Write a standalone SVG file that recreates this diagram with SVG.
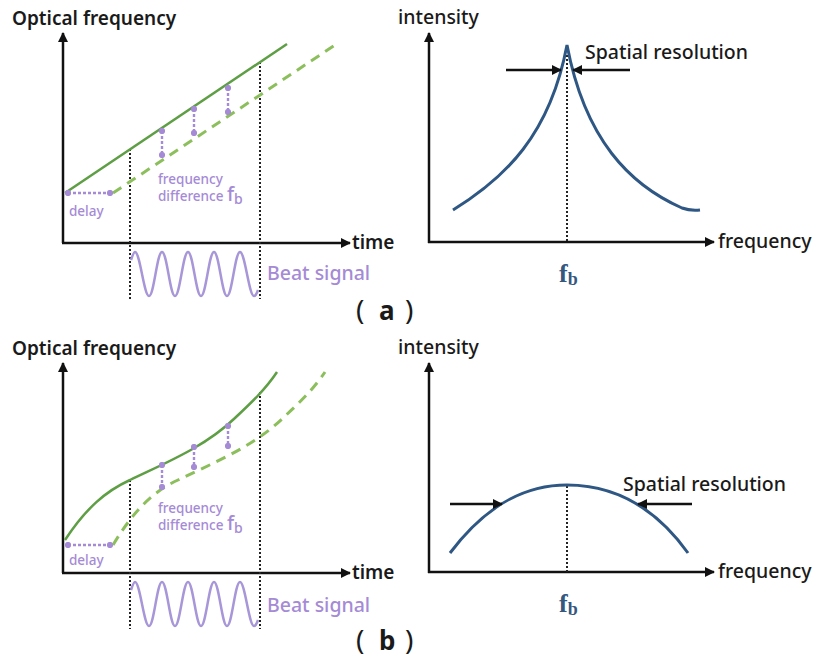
<svg xmlns="http://www.w3.org/2000/svg" width="817" height="661" viewBox="0 0 817 661">
<defs>
<style>
.t{font-family:"Noto Sans","Open Sans","Liberation Sans",sans-serif;fill:#1a1a1a;}
.lbl{font-size:19px;font-weight:600;}
.md{font-size:19.5px;font-weight:500;}
.ax{stroke:#111;stroke-width:2.5;fill:none;}
.vd{stroke:#222;stroke-width:2;stroke-dasharray:2 2;fill:none;}
.g{stroke:#5e9e44;stroke-width:2.5;fill:none;}
.gd{stroke:#8cbf5c;stroke-width:3;stroke-dasharray:10 7;fill:none;}
.pd{stroke:#a58ad6;stroke-width:2.4;stroke-dasharray:3 2;fill:none;}
.beat{stroke:#a796d8;stroke-width:2.5;fill:none;}
.blue{stroke:#2f5784;stroke-width:3;fill:none;}
.blk{stroke:#111;stroke-width:2.5;fill:none;}
.pt{font-family:"Noto Sans","Open Sans","Liberation Sans",sans-serif;fill:#a58ad6;font-weight:500;}
.fb{font-family:"Liberation Serif","DejaVu Serif",serif;fill:#34587f;font-weight:bold;}
.par{font-family:"Noto Sans","Liberation Sans",sans-serif;fill:#1a1a1a;font-size:28px;font-weight:400;}
.let{font-family:"Noto Sans","Liberation Sans",sans-serif;fill:#1a1a1a;font-size:26px;font-weight:bold;}
</style>
<marker id="ah" viewBox="0 0 10 10" refX="9" refY="5" markerWidth="4" markerHeight="4" orient="auto-start-reverse"><path d="M0,0 L10,5 L0,10 z" fill="#111"/></marker>
<marker id="pdot" viewBox="0 0 10 10" refX="5" refY="5" markerWidth="2.6" markerHeight="2.6" orient="auto"><circle cx="5" cy="5" r="5" fill="#a58ad6"/></marker>
</defs>

<!-- ===== Panel (a) left ===== -->
<g id="a-left">
<text class="t lbl" x="12" y="25">Optical frequency</text>
<line class="ax" x1="63" y1="243" x2="63" y2="33" marker-end="url(#ah)"/>
<line class="ax" x1="62" y1="243" x2="350" y2="243" marker-end="url(#ah)"/>
<text class="t lbl" x="352" y="249" font-size="20">time</text>
<line class="vd" x1="130" y1="149" x2="130" y2="299"/>
<line class="vd" x1="260" y1="62" x2="260" y2="299"/>
<line class="g" x1="65" y1="193" x2="287" y2="44"/>
<line class="gd" x1="113" y1="193" x2="338" y2="43"/>
<line class="pd" x1="68" y1="193" x2="110" y2="193" marker-start="url(#pdot)" marker-end="url(#pdot)"/>
<text class="pt" x="69" y="216" font-size="13.5">delay</text>
<line class="pd" x1="162" y1="131" x2="162" y2="155" marker-start="url(#pdot)" marker-end="url(#pdot)"/>
<line class="pd" x1="194" y1="109" x2="194" y2="133" marker-start="url(#pdot)" marker-end="url(#pdot)"/>
<line class="pd" x1="228" y1="88" x2="228" y2="112" marker-start="url(#pdot)" marker-end="url(#pdot)"/>
<text class="pt" x="158" y="184" font-size="13.5">frequency</text>
<text class="pt" x="158" y="201" font-size="13.5">difference <tspan font-size="20">f</tspan><tspan font-size="14" dy="3">b</tspan></text>
<path class="beat" d="M131,260 C133,254 134,252 135,252 C140,252 144,296 149,296 C154,296 157,252 162,252 C167,252 170,296 175,296 C180,296 183,252 188,252 C193,252 196,296 201,296 C206,296 209,252 214,252 C219,252 222,296 227,296 C232,296 235,252 240,252 C245,252 249,296 254,296 C256,296 257,293 258,290"/>
<text class="pt" x="267" y="280" font-size="19.5">Beat signal</text>
</g>

<!-- ===== Panel (a) right ===== -->
<g id="a-right">
<text class="t md" x="398" y="24">intensity</text>
<line class="ax" x1="429" y1="243" x2="429" y2="33" marker-end="url(#ah)"/>
<line class="ax" x1="428" y1="242" x2="714" y2="242" marker-end="url(#ah)"/>
<text class="t md" x="718" y="248">frequency</text>
<line class="vd" x1="567" y1="55" x2="567" y2="242"/>
<path class="blue" d="M453,210 C505,178 550,135 567,45 C585,140 630,185 682,208 Q690,211 700,210"/>
<line class="blk" x1="506" y1="70" x2="561" y2="70" marker-end="url(#ah)"/>
<line class="blk" x1="630" y1="70" x2="573" y2="70" marker-end="url(#ah)"/>
<text class="t md" x="585" y="59">Spatial resolution</text>
<text class="fb" x="559" y="282" font-size="26">f<tspan font-size="18" dy="3">b</tspan></text>
</g>

<g id="label-a">
<text class="par" x="356" y="320">(</text>
<text class="let" x="379" y="320">a</text>
<text class="par" x="405" y="320">)</text>
</g>

<!-- ===== Panel (b) left ===== -->
<g id="b-left">
<text class="t lbl" x="12" y="355">Optical frequency</text>
<line class="ax" x1="63" y1="573" x2="63" y2="363" marker-end="url(#ah)"/>
<line class="ax" x1="62" y1="573" x2="350" y2="573" marker-end="url(#ah)"/>
<text class="t lbl" x="352" y="579" font-size="20">time</text>
<line class="vd" x1="130" y1="480" x2="130" y2="629"/>
<line class="vd" x1="260" y1="392" x2="260" y2="629"/>
<path class="g" d="M65,540 C86,508 106,491 130,480 C165,463 205,447 235,418 C250,404 265,390 277,372"/>
<path class="gd" d="M113,545 C134,510 154,491 178,480 C213,463 253,447 283,418 C298,404 313,390 325,372"/>
<line class="pd" x1="68" y1="545" x2="110" y2="545" marker-start="url(#pdot)" marker-end="url(#pdot)"/>
<text class="pt" x="69" y="565" font-size="13.5">delay</text>
<line class="pd" x1="162" y1="465" x2="162" y2="487" marker-start="url(#pdot)" marker-end="url(#pdot)"/>
<line class="pd" x1="194" y1="447" x2="194" y2="467" marker-start="url(#pdot)" marker-end="url(#pdot)"/>
<line class="pd" x1="228" y1="426" x2="228" y2="446" marker-start="url(#pdot)" marker-end="url(#pdot)"/>
<text class="pt" x="158" y="513" font-size="13.5">frequency</text>
<text class="pt" x="158" y="530" font-size="13.5">difference <tspan font-size="20">f</tspan><tspan font-size="14" dy="3">b</tspan></text>
<path class="beat" d="M131,590 C133,584 134,582 135,582 C140,582 144,626 149,626 C154,626 157,582 162,582 C167,582 170,626 175,626 C180,626 183,582 188,582 C193,582 196,626 201,626 C206,626 209,582 214,582 C219,582 222,626 227,626 C232,626 235,582 240,582 C245,582 249,626 254,626 C256,626 257,623 258,620"/>
<text class="pt" x="267" y="612" font-size="19.5">Beat signal</text>
</g>

<!-- ===== Panel (b) right ===== -->
<g id="b-right">
<text class="t md" x="398" y="354">intensity</text>
<line class="ax" x1="429" y1="573" x2="429" y2="363" marker-end="url(#ah)"/>
<line class="ax" x1="428" y1="572" x2="714" y2="572" marker-end="url(#ah)"/>
<text class="t md" x="718" y="578">frequency</text>
<line class="vd" x1="567" y1="486" x2="567" y2="572"/>
<path class="blue" d="M450,553 C490,500 530,485 567,485 C605,485 650,500 688,553"/>
<line class="blk" x1="450" y1="504" x2="502" y2="504" marker-end="url(#ah)"/>
<line class="blk" x1="692" y1="504" x2="638" y2="504" marker-end="url(#ah)"/>
<text class="t md" x="623" y="491">Spatial resolution</text>
<text class="fb" x="559" y="612" font-size="26">f<tspan font-size="18" dy="3">b</tspan></text>
</g>

<g id="label-b">
<text class="par" x="356" y="650">(</text>
<text class="let" x="379" y="650">b</text>
<text class="par" x="405" y="650">)</text>
</g>
</svg>
